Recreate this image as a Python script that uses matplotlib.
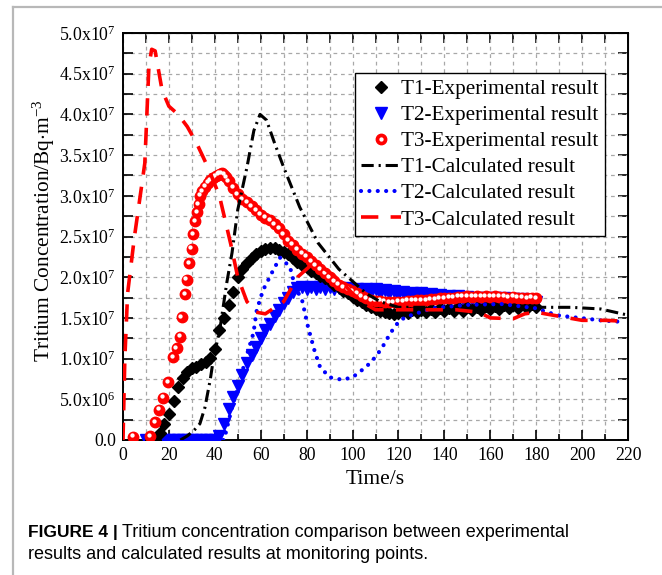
import numpy as np
import matplotlib
matplotlib.use("Agg")
import matplotlib.pyplot as plt
from matplotlib.lines import Line2D
from matplotlib.legend_handler import HandlerTuple
import matplotlib.transforms as mtransforms

SCALE = 1e7  # concentrations below are in units of 1e7 Bq/m3

# ---------------- data ----------------
t1_exp_time = [12, 14, 16, 18, 20, 22, 24, 26, 28, 30, 32, 34, 36, 38, 40, 42, 44, 46, 48, 50,
               52, 54, 56, 58, 60, 62, 64, 66, 68, 70, 72, 74, 76, 78, 80, 82, 84, 86, 88, 90,
               92, 94, 96, 98, 100, 102, 104, 106, 108, 110, 112, 114, 116, 118, 120, 122, 124,
               126, 128, 130, 132, 134, 136, 138, 140, 142, 144, 146, 148, 150, 152, 154, 156,
               158, 160, 162, 164, 166, 168, 170, 172, 174, 176, 178, 180]
t1_exp_conc = [0.0, 0.0, 0.08, 0.2, 0.32, 0.48, 0.65, 0.76, 0.84, 0.88, 0.9, 0.93, 0.96, 1.01,
               1.12, 1.35, 1.5, 1.66, 1.82, 2.0, 2.1, 2.17, 2.24, 2.28, 2.32, 2.35, 2.36, 2.36,
               2.34, 2.31, 2.28, 2.24, 2.19, 2.15, 2.12, 2.08, 2.05, 2.02, 1.99, 1.95, 1.91, 1.88,
               1.83, 1.8, 1.76, 1.72, 1.69, 1.66, 1.63, 1.61, 1.59, 1.57, 1.56, 1.55, 1.56, 1.59,
               1.56, 1.6, 1.57, 1.6, 1.57, 1.61, 1.57, 1.62, 1.58, 1.62, 1.59, 1.63, 1.59, 1.63,
               1.6, 1.64, 1.6, 1.65, 1.61, 1.65, 1.61, 1.66, 1.62, 1.66, 1.62, 1.67, 1.62, 1.67,
               1.63]

t2_exp_time = [10, 12, 14, 16, 18, 20, 22, 24, 26, 28, 30, 32, 34, 36, 38, 40, 42, 44, 46, 48,
               50, 52, 54, 56, 58, 60, 62, 64, 66, 68, 70, 72, 74, 76, 78, 80, 82, 84, 86, 88,
               90, 92, 94, 96, 98, 100, 102, 104, 106, 108, 110, 112, 114, 116, 118, 120, 122,
               124, 126, 128, 130, 132, 134, 136, 138, 140, 142, 144, 146, 148, 150, 152, 154,
               156, 158, 160, 162, 164, 166, 168, 170, 172, 174, 176, 178, 180]
t2_exp_conc = [0.0, 0.0, 0.0, 0.0, 0.0, 0.0, 0.0, 0.0, 0.0, 0.0, 0.0, 0.0, 0.0, 0.0, 0.0, 0.0,
               0.05, 0.2, 0.38, 0.53, 0.66, 0.8, 0.95, 1.05, 1.14, 1.25, 1.35, 1.43, 1.52, 1.6,
               1.68, 1.75, 1.82, 1.87, 1.88, 1.85, 1.88, 1.85, 1.88, 1.85, 1.88, 1.85, 1.87, 1.84,
               1.87, 1.84, 1.86, 1.83, 1.86, 1.82, 1.85, 1.81, 1.84, 1.8, 1.83, 1.79, 1.82, 1.78,
               1.81, 1.77, 1.8, 1.76, 1.79, 1.75, 1.78, 1.75, 1.77, 1.74, 1.77, 1.73, 1.76, 1.73,
               1.75, 1.72, 1.75, 1.72, 1.74, 1.71, 1.74, 1.71, 1.73, 1.7, 1.73, 1.7, 1.72, 1.7]

t3_exp_time = [4.5, 11.8, 13.9, 15.8, 17.6, 19.8, 21.9, 23.4, 24.8, 25.6, 27.0, 27.7, 28.9, 29.9,
               30.6, 31.5, 32.3, 33.0, 33.6, 34.4, 35.7, 37.0, 38.0, 39.2, 40.3, 41.4, 42.2, 43.0,
               44.0, 45.0, 46, 48, 50, 52, 54, 56, 58, 60, 62, 64, 66, 68,
               70, 72, 74, 76, 78, 80, 82, 84, 86, 88, 90, 92, 94, 96,
               98, 100, 102, 104, 106, 108, 110, 112, 114, 116, 118, 120, 122, 124,
               126, 128, 130, 132, 134, 136, 138, 140, 142, 144, 146, 148, 150, 152,
               154, 156, 158, 160, 162, 164, 166, 168, 170, 172, 174, 176, 178, 180]
t3_exp_conc = [0.04, 0.05, 0.22, 0.37, 0.52, 0.71, 1.02, 1.13, 1.27, 1.51, 1.79, 1.97, 2.17, 2.35,
               2.53, 2.69, 2.8, 2.9, 3.0, 3.06, 3.11, 3.16, 3.19, 3.22, 3.24, 3.26, 3.27, 3.28,
               3.26, 3.23, 3.18, 3.1, 3.02, 2.96, 2.92, 2.87, 2.82, 2.77, 2.73, 2.7, 2.65, 2.6,
               2.53, 2.45, 2.4, 2.34, 2.29, 2.25, 2.2, 2.15, 2.1, 2.05, 2.0, 1.95, 1.91, 1.88,
               1.85, 1.83, 1.8, 1.77, 1.74, 1.72, 1.71, 1.71, 1.7, 1.69, 1.69, 1.7, 1.7, 1.71,
               1.71, 1.72, 1.72, 1.72, 1.73, 1.73, 1.74, 1.74, 1.75, 1.75, 1.76, 1.76, 1.77, 1.76,
               1.77, 1.76, 1.77, 1.76, 1.77, 1.76, 1.76, 1.75, 1.76, 1.75, 1.75, 1.74, 1.75, 1.74]

t1_calc_time = [25, 28, 31, 33.5, 35.7, 38, 39.3, 42.3, 45.2, 47.5, 50, 54, 57, 59.7, 62.5, 66,
                70, 77, 85, 94, 100, 106, 112, 120, 140, 160, 180, 195, 208, 219]
t1_calc_conc = [0.0, 0.05, 0.12, 0.2, 0.4, 0.74, 0.98, 1.38, 1.93, 2.3, 2.83, 3.35, 3.8, 4.0, 3.93,
                3.65, 3.35, 2.86, 2.42, 2.1, 1.95, 1.8, 1.7, 1.63, 1.63, 1.64, 1.63, 1.63, 1.61,
                1.54]

t2_calc_time = [40, 44, 47.5, 51, 54, 56.8, 58.3, 61, 65.5, 68.4, 72.7, 75, 78, 80.6, 83.6, 85.8,
                90, 95.5, 100, 106, 110, 113, 116.4, 120, 123, 129.5, 135, 150, 165, 179.5, 186,
                190, 195.5, 202, 208, 218]
t2_calc_conc = [0.0, 0.0, 0.4, 0.74, 1.05, 1.31, 1.6, 1.84, 2.09, 2.24, 2.13, 1.88, 1.72, 1.39,
                1.08, 0.9, 0.77, 0.74, 0.77, 0.9, 1.02, 1.14, 1.31, 1.45, 1.51, 1.57, 1.62, 1.66,
                1.67, 1.62, 1.56, 1.53, 1.51, 1.49, 1.47, 1.45]

t3_calc_time = [0, 0.8, 2, 5, 9.5, 11.3, 12.5, 14, 17, 20, 24, 28, 32, 37, 42, 47, 50, 54, 58,
                62, 70, 76, 82, 88, 95, 100, 105, 110, 120, 130, 145, 155, 160, 170, 175, 180,
                190, 200, 210, 218]
t3_calc_conc = [0.0, 1.0, 1.8, 2.5, 3.4, 4.6, 4.8, 4.78, 4.3, 4.1, 4.0, 3.85, 3.65, 3.35, 3.0,
                2.4, 2.0, 1.7, 1.57, 1.55, 1.7, 2.0, 2.15, 2.1, 1.95, 1.8, 1.68, 1.6, 1.6, 1.6,
                1.6, 1.57, 1.5, 1.49, 1.55, 1.57, 1.52, 1.47, 1.47, 1.46]

legend_labels = ["T1-Experimental result", "T2-Experimental result", "T3-Experimental result",
                 "T1-Calculated result", "T2-Calculated result", "T3-Calculated result"]
x_ticks = [0, 20, 40, 60, 80, 100, 120, 140, 160, 180, 200, 220]
y_tick_labels = ["0.0", r"5.0x10$^{6}$", r"1.0x10$^{7}$", r"1.5x10$^{7}$", r"2.0x10$^{7}$",
                 r"2.5x10$^{7}$", r"3.0x10$^{7}$", r"3.5x10$^{7}$", r"4.0x10$^{7}$",
                 r"4.5x10$^{7}$", r"5.0x10$^{7}$"]

# ---------------- style ----------------
plt.rcParams["font.family"] = ["Liberation Serif", "DejaVu Serif"]
plt.rcParams["mathtext.fontset"] = "custom"
plt.rcParams["mathtext.rm"] = "Liberation Serif"
plt.rcParams["mathtext.it"] = "Liberation Serif:italic"
plt.rcParams["mathtext.bf"] = "Liberation Serif:bold"

RED = "#ff0000"
BLUE = "#0000ff"
BLACK = "#000000"

fig = plt.figure(figsize=(6.62, 5.75), dpi=100)
ax = fig.add_axes([123 / 662, 1 - 440 / 575, 505 / 662, 407 / 575])

def sc(v):
    return np.asarray(v) * SCALE

# experimental markers
h2, = ax.plot(t2_exp_time, sc(t2_exp_conc), linestyle="none", marker="v", ms=8,
              color=BLUE, mec=BLUE, zorder=3)
h1, = ax.plot(t1_exp_time, sc(t1_exp_conc), linestyle="none", marker="D", ms=6,
              color=BLACK, mec=BLACK, zorder=3)
h3, = ax.plot(t3_exp_time, sc(t3_exp_conc), linestyle="none", marker="o", ms=7.5,
              color=RED, mec=RED, zorder=3)
hl_tr = mtransforms.offset_copy(ax.transData, fig=fig, x=-1.0, y=1.0, units="points")
ax.plot(t3_exp_time, sc(t3_exp_conc), linestyle="none", marker="o", ms=2.1,
        color="white", mec="white", transform=hl_tr, zorder=3.1)

# calculated lines
c1, = ax.plot(t1_calc_time, sc(t1_calc_conc), color=BLACK, lw=2.2,
              linestyle=(0, (4.0, 1.6, 0.7, 1.6)), zorder=4)
c2, = ax.plot(t2_calc_time, sc(t2_calc_conc), color=BLUE, lw=3.0,
              linestyle=(0, (0.01, 2.0)), dash_capstyle="round", zorder=4)
c3, = ax.plot(t3_calc_time, sc(t3_calc_conc), color=RED, lw=2.6,
              linestyle=(0, (4.8, 3.4)), zorder=4)

ax.set_xlim(0, 220)
ax.set_ylim(0, 5e7)
ax.set_xticks(x_ticks)
ax.set_xticklabels([str(v) for v in x_ticks])
ax.set_xticks(np.arange(10, 220, 20), minor=True)
ax.set_yticks(np.arange(0, 5.01e7, 5e6))
ax.set_yticklabels(y_tick_labels)
ax.set_yticks(np.arange(2.5e6, 5e7, 5e6), minor=True)
ax.tick_params(axis="both", which="major", direction="in", length=7, width=1.2,
               labelsize=12.8, pad=5)
ax.tick_params(axis="x", which="minor", direction="in", length=4, width=1.2)
ax.tick_params(axis="y", which="minor", direction="in", length=7, width=1.2)
ax.grid(which="both", color="#a8a8a8", linestyle=(0, (3, 3)), linewidth=0.9)
for s in ax.spines.values():
    s.set_linewidth(1.4)

sec_x = ax.secondary_xaxis("top")
sec_x.set_xticks(np.arange(0, 221, 10))
sec_x.set_xticklabels([])
sec_x.tick_params(direction="in", length=7, width=1.2)
sec_y = ax.secondary_yaxis("right")
sec_y.set_yticks(np.arange(0, 5.01e7, 2.5e6))
sec_y.set_yticklabels([])
sec_y.tick_params(direction="in", length=7, width=1.2)

ax.set_xlabel("Time/s", fontsize=15.5, labelpad=4)
ax.set_ylabel(r"Tritium Concentration/Bq$\cdot$m$^{-3}$", fontsize=15.4)
ax.yaxis.set_label_coords(-0.131, 0.5135)

# legend
hi = Line2D([], [], linestyle="none", marker="o", ms=2.1, color="white", mec="white")
leg = ax.legend([h1, h2, (h3, hi), c1, c2, c3], legend_labels,
                handler_map={tuple: HandlerTuple(ndivide=1)},
                loc="upper right", bbox_to_anchor=(0.954, 0.902), fontsize=15.2,
                frameon=True, fancybox=False, edgecolor=BLACK, framealpha=1,
                handlelength=1.9, handletextpad=0.0, borderpad=0.3, labelspacing=0.3,
                borderaxespad=0, numpoints=1)
leg.get_frame().set_linewidth(1.0)

# decorative page frame
fig.add_artist(Line2D([13 / 662, 1], [1 - 7 / 575, 1 - 7 / 575], color="#b8b8b8", lw=1.6))
fig.add_artist(Line2D([13 / 662, 13 / 662], [0, 1 - 7 / 575], color="#b8b8b8", lw=1.6))

# caption
cap_font = ["Liberation Sans", "DejaVu Sans"]
bold_txt = fig.text(28 / 662, 1 - 537 / 575, "FIGURE 4 |", family=cap_font, weight="bold",
                    fontsize=12.5, va="baseline", ha="left")
renderer = fig.canvas.get_renderer()
bb = bold_txt.get_window_extent(renderer=renderer)
fig.text(bb.x1 / fig.bbox.width + 4 / 662, 1 - 537 / 575,
         "Tritium concentration comparison between experimental",
         family=cap_font, fontsize=13, va="baseline", ha="left")
fig.text(28 / 662, 1 - 559 / 575, "results and calculated results at monitoring points.",
         family=cap_font, fontsize=13, va="baseline", ha="left")

fig.savefig("out.png", dpi=100)
